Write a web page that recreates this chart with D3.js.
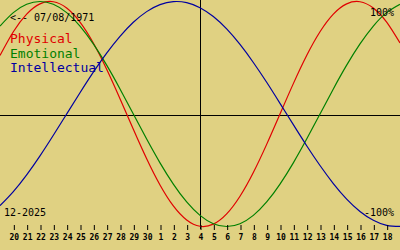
<!DOCTYPE html>
<html>
<head>
<meta charset="utf-8">
<script src="https://cdn.jsdelivr.net/npm/d3@7"></script>
<style>
  body { margin: 0; background: #e0d182; }
  svg { display: block; }
  text { font-family: "DejaVu Sans Mono", "Liberation Mono", monospace; }
</style>
</head>
<body>
<div id="chart"></div>
<script>
var width = 400, height = 250;

// day offsets from today (0 = 4 Dec 2025)
var days = d3.range(-15, 16);
// tick labels, 20 Nov .. 18 Dec
var tickLabels = ['20','21','22','23','24','25','26','27','28','29','30','1','2','3','4',
                  '5','6','7','8','9','10','11','12','13','14','15','16','17','18'];

var physical = [0.52, 0.731, 0.888, 0.979, 0.998, 0.942, 0.817, 0.631, 0.398, 0.136,
                -0.136, -0.398, -0.631, -0.817, -0.942, -0.998, -0.979, -0.888, -0.731, -0.52,
                -0.27, 0, 0.27, 0.52, 0.731, 0.888, 0.979, 0.998, 0.942, 0.817, 0.631];
var emotional = [0.782, 0.901, 0.975, 1, 0.975, 0.901, 0.782, 0.623, 0.434, 0.223,
                 0, -0.223, -0.434, -0.623, -0.782, -0.901, -0.975, -1, -0.975, -0.901,
                 -0.782, -0.623, -0.434, -0.223, 0, 0.223, 0.434, 0.623, 0.782, 0.901, 0.975];
var intellectual = [-0.815, -0.69, -0.541, -0.372, -0.189, 0, 0.189, 0.372, 0.541, 0.69,
                    0.815, 0.91, 0.972, 0.999, 0.99, 0.945, 0.866, 0.756, 0.618, 0.458,
                    0.282, 0.095, -0.095, -0.282, -0.458, -0.618, -0.756, -0.866, -0.945, -0.99, -0.999];

var seriesNames = ['Physical', 'Emotional', 'Intellectual'];
var seriesColors = ['#e00000', '#008000', '#0000a0'];
var seriesValues = [physical, emotional, intellectual];

var x = d3.scaleLinear().domain([-15, 15]).range([0, 400]);
var y = d3.scaleLinear().domain([-1, 1]).range([226.5, 1.5]);

var svg = d3.select('#chart').append('svg')
    .attr('width', width)
    .attr('height', height);

svg.append('rect')
    .attr('width', width)
    .attr('height', height)
    .attr('fill', '#e0d182');

// axes
svg.append('line')
    .attr('x1', 0).attr('x2', width)
    .attr('y1', 115.5).attr('y2', 115.5)
    .attr('stroke', '#000').attr('stroke-width', 1);
svg.append('line')
    .attr('x1', x(0) + 0.5).attr('x2', x(0) + 0.5)
    .attr('y1', 0).attr('y2', 229)
    .attr('stroke', '#000').attr('stroke-width', 1);

// curves
var line = d3.line()
    .x(function (d, i) { return x(days[i]); })
    .y(function (d) { return y(d); })
    .curve(d3.curveNatural);

for (var s = 0; s < seriesValues.length; s++) {
    svg.append('path')
        .attr('d', line(seriesValues[s]))
        .attr('fill', 'none')
        .attr('stroke', seriesColors[s])
        .attr('stroke-width', 1.2);
}

// day ticks
var tickDays = d3.range(-14, 15);
var xAxis = d3.axisBottom(x)
    .tickValues(tickDays)
    .tickSize(5)
    .tickFormat(function (d, i) { return tickLabels[i]; });

var axisG = svg.append('g')
    .attr('transform', 'translate(0.5,225)')
    .call(xAxis);
axisG.select('.domain').remove();
axisG.selectAll('line').attr('stroke', '#000');
axisG.selectAll('text')
    .attr('fill', '#000')
    .attr('y', 15)
    .attr('dy', 0)
    .style('font-size', '8px')
    .style('font-weight', 'bold');

// labels
svg.append('text')
    .attr('x', 10).attr('y', 21)
    .style('font-size', '10px')
    .attr('fill', '#000')
    .text('<-- 07/08/1971');

for (var k = 0; k < seriesNames.length; k++) {
    svg.append('text')
        .attr('x', 10).attr('y', 43 + k * 14.5)
        .style('font-size', '13px')
        .attr('fill', seriesColors[k])
        .text(seriesNames[k]);
}

svg.append('text')
    .attr('x', 4).attr('y', 216)
    .style('font-size', '10px')
    .attr('fill', '#000')
    .text('12-2025');

svg.append('text')
    .attr('x', 394).attr('y', 16)
    .attr('text-anchor', 'end')
    .style('font-size', '10px')
    .attr('fill', '#000')
    .text('100%');

svg.append('text')
    .attr('x', 394).attr('y', 216)
    .attr('text-anchor', 'end')
    .style('font-size', '10px')
    .attr('fill', '#000')
    .text('-100%');
</script>
</body>
</html>
